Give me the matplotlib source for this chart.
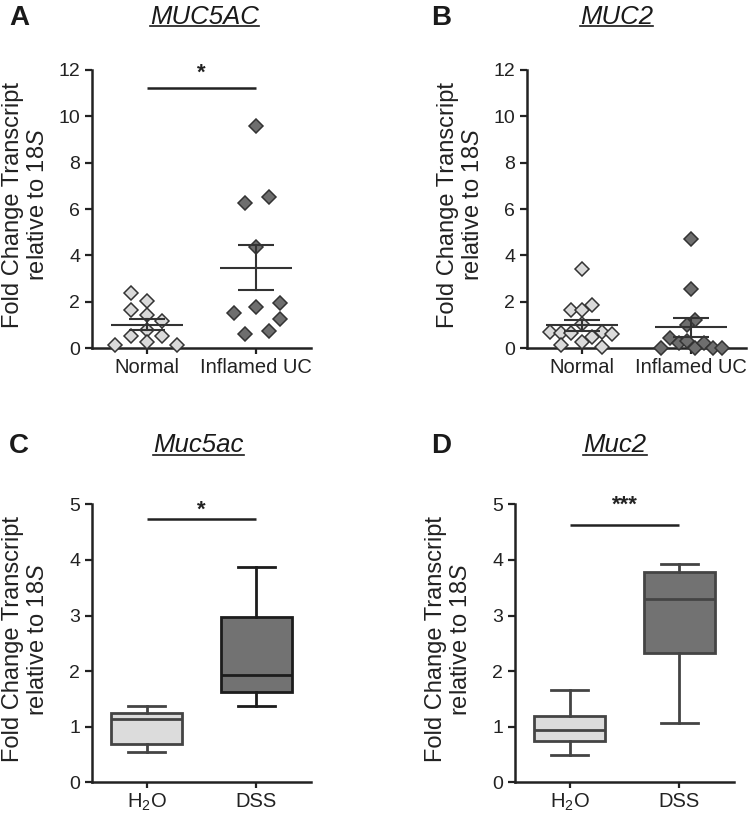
import numpy as np
import matplotlib
matplotlib.use("Agg")
import matplotlib.pyplot as plt
from matplotlib.lines import Line2D

plt.rcParams['font.family'] = ['Liberation Sans', 'DejaVu Sans']
plt.rcParams['mathtext.fontset'] = 'custom'
plt.rcParams['mathtext.rm'] = 'Liberation Sans'
plt.rcParams['mathtext.it'] = 'Liberation Sans:italic'
plt.rcParams['mathtext.bf'] = 'Liberation Sans:bold'

# ---------------- data ----------------
groups_human = ["Normal", "Inflamed UC"]
groups_mouse = ["H$_2$O", "DSS"]

# Panel A: MUC5AC (human)
a_normal = [2.39, 2.03, 1.64, 1.42, 1.17, 0.78, 0.52, 0.52, 0.27, 0.13, 0.13]
a_uc = [9.60, 6.28, 6.51, 4.34, 1.51, 1.77, 1.94, 1.26, 0.60, 0.75]
# Panel B: MUC2 (human)
b_normal = [3.41, 1.64, 1.64, 1.86, 1.04, 0.68, 0.63, 0.63, 0.68, 0.59, 0.49, 0.27, 0.13, 0.06]
b_uc = [4.70, 2.54, 1.21, 0.99, 0.42, 0.01, 0.20, 0.30, 0.01, 0.23, 0.01, 0.01]

# horizontal scatter layout (jitter offsets, group units)
a_normal_dx = [-0.143, 0.0, -0.143, 0.0, 0.137, 0.0, -0.143, 0.137, 0.0, -0.289, 0.274]
a_uc_dx = [0.0, -0.10, 0.113, 0.0, -0.207, 0.0, 0.219, 0.219, -0.10, 0.113]
b_normal_dx = [0.0, -0.098, 0.0, 0.091, 0.0, -0.289, -0.192, -0.098, 0.183, 0.274, 0.091, 0.0, -0.192, 0.183]
b_uc_dx = [0.0, 0.0, 0.037, -0.039, -0.198, -0.277, -0.116, -0.039, 0.037, 0.112, 0.198, 0.280]

# Panel C: Muc5ac (mouse) box stats: whislo, q1, med, q3, whishi
c_h2o = [0.54, 0.68, 1.13, 1.25, 1.38]
c_dss = [1.37, 1.62, 1.93, 2.98, 3.88]
# Panel D: Muc2 (mouse)
d_h2o = [0.49, 0.75, 0.94, 1.19, 1.66]
d_dss = [1.06, 2.33, 3.29, 3.79, 3.93]

titles = ["MUC5AC", "MUC2", "Muc5ac", "Muc2"]
letters = ["A", "B", "C", "D"]
ylabel = "Fold Change Transcript\nrelative to $\\mathit{18S}$"

# ---------------- styles ----------------
LIGHT = "#dadada"
DARK = "#6e6e6e"
EDGE = "#333333"
AX = "#222222"

fig = plt.figure(figsize=(7.5, 8.16), dpi=100)
W, H = 750.0, 816.0


def rect(left, top, right, bottom):
    return [left / W, 1 - bottom / H, (right - left) / W, (bottom - top) / H]


axA = fig.add_axes(rect(92, 70, 311, 348))
axB = fig.add_axes(rect(527, 70, 746, 348))
axC = fig.add_axes(rect(92, 504.3, 311, 782.3))
axD = fig.add_axes(rect(515, 504.3, 734, 782.3))


def style_axis(ax, ymax, step, labels):
    ax.set_xlim(-0.5, 1.5)
    ax.set_ylim(0, ymax)
    ax.set_yticks(np.arange(0, ymax + 0.01, step))
    ax.set_xticks([0, 1])
    ax.set_xticklabels(labels, fontsize=14.5)
    for s in ["top", "right"]:
        ax.spines[s].set_visible(False)
    for s in ["left", "bottom"]:
        ax.spines[s].set_linewidth(1.8)
        ax.spines[s].set_color(AX)
    ax.tick_params(axis='y', direction='out', length=5, width=1.6, colors=AX,
                   labelsize=14, pad=3.5, labelcolor="#222222")
    ax.tick_params(axis='x', direction='out', length=4, width=1.6, colors=AX,
                   labelsize=14.5, pad=3, labelcolor="#222222")
    ax.set_ylabel(ylabel, fontsize=17, linespacing=1.2, color="#222222")
    ax.yaxis.set_label_coords(-0.195, 0.515)
    ax.patch.set_alpha(0)


def scatter_panel(ax, vals_list, dx_list, fills):
    for i, (vals, dx, fc) in enumerate(zip(vals_list, dx_list, fills)):
        vals = np.asarray(vals)
        x = i + np.asarray(dx)
        ax.plot(x, vals, linestyle='none', marker='D', ms=7.0, mfc=fc, mec=EDGE,
                mew=1.1, clip_on=False, zorder=3)
        m = vals.mean()
        sem = vals.std(ddof=1) / np.sqrt(len(vals))
        ax.plot([i - 0.33, i + 0.33], [m, m], color=EDGE, lw=1.5, zorder=4, solid_capstyle='butt')
        ax.plot([i, i], [m - sem, m + sem], color=EDGE, lw=1.5, zorder=4)
        for yv in (m - sem, m + sem):
            ax.plot([i - 0.165, i + 0.165], [yv, yv], color=EDGE, lw=1.5, zorder=4,
                    solid_capstyle='butt')


def box_panel(ax, data, fills, edges):
    stats = []
    for d in data:
        stats.append(dict(whislo=d[0], q1=d[1], med=d[2], q3=d[3], whishi=d[4], fliers=[]))
    for i, (st, fc, ec) in enumerate(zip(stats, fills, edges)):
        ax.bxp([st], positions=[i], widths=0.65, capwidths=0.34, patch_artist=True,
               showfliers=False, manage_ticks=False,
               boxprops=dict(facecolor=fc, edgecolor=ec, linewidth=2.0),
               medianprops=dict(color=ec, linewidth=2.0),
               whiskerprops=dict(color=ec, linewidth=2.0),
               capprops=dict(color=ec, linewidth=2.0))


def sig(ax, y, ystar, text):
    ax.plot([0, 1], [y, y], color=AX, lw=1.8, clip_on=False, solid_capstyle='butt')
    ax.text(0.5, ystar, text, ha='center', va='center', fontsize=16, fontweight='bold',
            color=AX, clip_on=False)


scatter_panel(axA, [a_normal, a_uc], [a_normal_dx, a_uc_dx], [LIGHT, DARK])
style_axis(axA, 12, 2, groups_human)
sig(axA, 11.21, 11.85, "*")

scatter_panel(axB, [b_normal, b_uc], [b_normal_dx, b_uc_dx], [LIGHT, DARK])
style_axis(axB, 12, 2, groups_human)

box_panel(axC, [c_h2o, c_dss], ["#dcdcdc", "#727272"], ["#444444", "#1c1c1c"])
style_axis(axC, 5, 1, groups_mouse)
sig(axC, 4.73, 4.90, "*")

box_panel(axD, [d_h2o, d_dss], ["#dcdcdc", "#727272"], ["#444444", "#444444"])
style_axis(axD, 5, 1, groups_mouse)
sig(axD, 4.62, 4.99, "***")

# panel letters and underlined italic titles
renderer = fig.canvas.get_renderer()
letter_pos = [(9, 25), (431, 25), (9, 453), (431, 453)]
title_pos = [(204.5, 23.5), (616.5, 23.5), (198.5, 452), (615, 452)]
for L, (lx, ly), T, (tx, ty) in zip(letters, letter_pos, titles, title_pos):
    fig.text(lx / W, 1 - ly / H, L, fontsize=20, fontweight='bold', ha='left',
             va='baseline', color="#1a1a1a")
    t = fig.text(tx / W, 1 - ty / H, T, fontsize=18.5, style='italic', ha='center',
                 va='baseline', color="#1a1a1a")
    bb = t.get_window_extent(renderer=renderer)
    uy = 1 - (ty + 2.5) / H
    fig.add_artist(Line2D([bb.x0 / W, bb.x1 / W], [uy, uy], color="#1a1a1a", lw=1.2,
                          transform=fig.transFigure))

fig.savefig("out.png", dpi=100)
